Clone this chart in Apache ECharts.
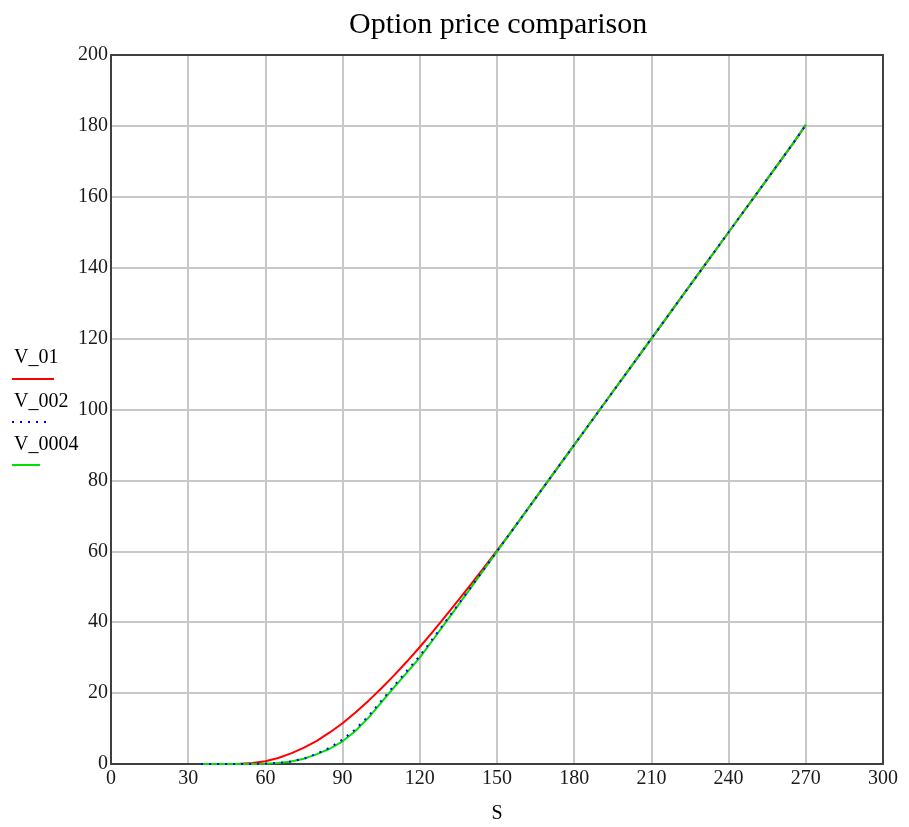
<!DOCTYPE html>
<html>
<head>
<meta charset="utf-8">
<script src="https://cdn.jsdelivr.net/npm/echarts@6/dist/echarts.min.js"></script>
<style>
html,body{margin:0;padding:0;background:#fff;}
#chart{width:909px;height:827px;}
</style>
</head>
<body>
<div id="chart"></div>
<script>
// Data
var S = [35,40,45,50,55,60,65,70,75,80,85,90,95,100,105,110,115,120,125,130,135,140,145,150,155,160,165,170,175,180,185,190,195,200,205,210,215,220,225,230,235,240,245,250,255,260,265,270];
var V_01 = [0,0,0,0.05,0.3,0.8,1.7,3.0,4.6,6.5,8.9,11.5,14.5,17.8,21.3,25.0,28.9,33.0,37.3,41.7,46.2,50.8,55.5,60.2,65.0,70.0,75,80,85,90,95,100,105,110,115,120,125,130,135,140,145,150,155,160,165,170,175,180.3];
var V_002 = [0,0,0,0,0,0.1,0.3,0.7,1.5,2.9,4.6,6.9,9.8,13.5,17.8,22.1,26.3,30.5,35.3,40.2,45.1,50.0,55.0,60,65,70,75,80,85,90,95,100,105,110,115,120,125,130,135,140,145,150,155,160,165,170,175,180.3];
var V_0004 = [0,0,0,0,0,0.1,0.3,0.7,1.5,2.8,4.3,6.4,9.3,13.0,17.3,21.6,25.8,30.0,34.9,39.9,44.9,49.9,54.9,59.9,65,70,75,80,85,90,95,100,105,110,115,120,125,130,135,140,145,150,155,160,165,170,175,180.3];
var seriesNames = ['V_01','V_002','V_0004'];
var xTicks = {min:0, max:300, interval:30};
var yTicks = {min:0, max:200, interval:20};

function pairs(xs, ys){ return xs.map(function(x,i){ return [x, ys[i]]; }); }

var font = 'Liberation Serif, Times New Roman, serif';
var frame = {show:true, onZero:false, lineStyle:{color:'#404040', width:2}};
var chart = echarts.init(document.getElementById('chart'));
chart.setOption({
  animation:false,
  backgroundColor:'#fff',
  title:{
    text:'Option price comparison',
    left:344, top:5,
    textStyle:{fontFamily:font, fontSize:30, fontWeight:'normal', color:'#000'}
  },
  grid:{left:111, right:26, top:55, bottom:63, containLabel:false, outerBoundsMode:'none'},
  xAxis:[{
    type:'value', min:xTicks.min, max:xTicks.max, interval:xTicks.interval,
    name:'S', nameLocation:'middle', nameGap:40,
    nameTextStyle:{fontFamily:font, fontSize:20, color:'#000'},
    axisLine:frame, axisTick:{show:false},
    axisLabel:{fontFamily:font, fontSize:20, color:'#1a1a1a', margin:5},
    splitLine:{show:true, lineStyle:{color:'#c8c8c8', width:2}}
  },{
    type:'value', position:'top', min:xTicks.min, max:xTicks.max, interval:xTicks.interval,
    axisLine:frame, axisTick:{show:false}, axisLabel:{show:false}, splitLine:{show:false}
  }],
  yAxis:[{
    type:'value', min:yTicks.min, max:yTicks.max, interval:yTicks.interval,
    axisLine:frame, axisTick:{show:false},
    axisLabel:{fontFamily:font, fontSize:20, color:'#1a1a1a', margin:3},
    splitLine:{show:true, lineStyle:{color:'#c8c8c8', width:2}}
  },{
    type:'value', position:'right', min:yTicks.min, max:yTicks.max, interval:yTicks.interval,
    axisLine:frame, axisTick:{show:false}, axisLabel:{show:false}, splitLine:{show:false}
  }],
  series:[
    {name:seriesNames[0], type:'line', data:pairs(S,V_01), showSymbol:false, lineStyle:{color:'#ff0000', width:2}, z:2},
    {name:seriesNames[2], type:'line', data:pairs(S,V_0004), showSymbol:false, lineStyle:{color:'#00e000', width:2}, z:3},
    {name:seriesNames[1], type:'line', data:pairs(S,V_002), showSymbol:false, lineStyle:{color:'#0000ff', width:2, type:[2,6]}, z:4}
  ],
  graphic:[
    {type:'text', left:14, top:348, style:{text:seriesNames[0], font:'20px '+font, fill:'#000'}},
    {type:'line', shape:{x1:12, y1:379, x2:54, y2:379}, style:{stroke:'#ff0000', lineWidth:2}},
    {type:'text', left:14, top:392, style:{text:seriesNames[1], font:'20px '+font, fill:'#000'}},
    {type:'line', shape:{x1:12, y1:422, x2:46, y2:422}, style:{stroke:'#0000ff', lineWidth:2, lineDash:[2,6]}},
    {type:'text', left:14, top:435, style:{text:seriesNames[2], font:'20px '+font, fill:'#000'}},
    {type:'line', shape:{x1:12, y1:465, x2:40, y2:465}, style:{stroke:'#00e000', lineWidth:2}}
  ]
});
</script>
</body>
</html>
